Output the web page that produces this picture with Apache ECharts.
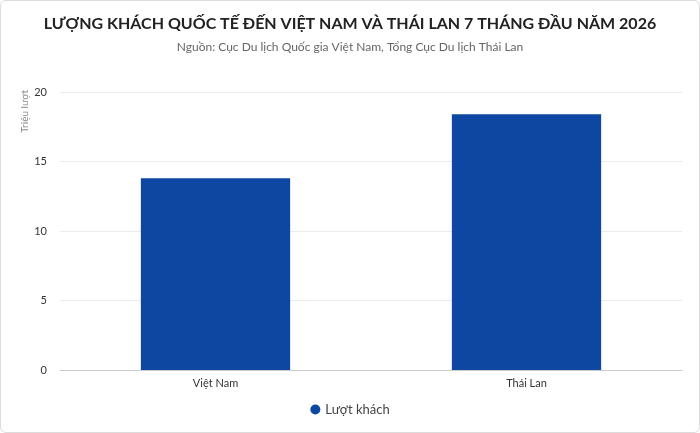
<!DOCTYPE html>
<html><head><meta charset="utf-8">
<script src="https://cdn.jsdelivr.net/npm/echarts@6/dist/echarts.min.js"></script>
<style>
html,body{margin:0;padding:0;background:#fff;}
#c{width:698px;height:431px;border:1px solid #dcdcdc;border-radius:6px;overflow:hidden;}
</style></head>
<body><div id="c"></div>
<script>
var categories = ['Việt Nam', 'Thái Lan'];
var visitors = [13.8, 18.4];
var seriesName = 'Lượt khách';
var yTicks = [0, 5, 10, 15, 20];

var chart = echarts.init(document.getElementById('c'));
var font = 'Lato, "Noto Sans", sans-serif';
chart.setOption({
  animation: false,
  textStyle: {fontFamily: font},
  title: {
    text: 'LƯỢNG KHÁCH QUỐC TẾ ĐẾN VIỆT NAM VÀ THÁI LAN 7 THÁNG ĐẦU NĂM 2026',
    subtext: 'Nguồn: Cục Du lịch Quốc gia Việt Nam, Tổng Cục Du lịch Thái Lan',
    left: 'center', top: 10, itemGap: 9,
    textStyle: {fontFamily: font, fontSize: 16, fontWeight: 'bold', color: '#222'},
    subtextStyle: {fontFamily: font, fontSize: 12, color: '#666'}
  },
  legend: {
    bottom: 11, left: 'center', icon: 'circle', itemWidth: 10, itemHeight: 10, itemGap: 10,
    textStyle: {fontFamily: font, fontSize: 13, color: '#444'},
    data: [seriesName]
  },
  grid: {left: 59, right: 17, top: 91, bottom: 62},
  xAxis: {
    type: 'category', data: categories,
    axisLine: {lineStyle: {color: '#ccc'}},
    axisTick: {show: false},
    axisLabel: {fontFamily: font, fontSize: 11, color: '#333', margin: 8}
  },
  yAxis: {
    type: 'value', min: yTicks[0], max: yTicks[yTicks.length-1], interval: 5,
    axisLine: {show: false}, axisTick: {show: false},
    axisLabel: {fontFamily: font, fontSize: 11, color: '#333', margin: 13},
    splitLine: {lineStyle: {color: '#ebebeb'}}
  },
  graphic: [{
    type: 'text', left: 19, top: 89, rotation: Math.PI/2,
    style: {text: 'Triệu lượt', fontFamily: font, fontSize: 10, fill: '#888'}
  }],
  series: [{
    name: seriesName, type: 'bar', data: visitors, barWidth: '48%',
    itemStyle: {color: '#0d47a1'}
  }]
});
</script></body></html>
